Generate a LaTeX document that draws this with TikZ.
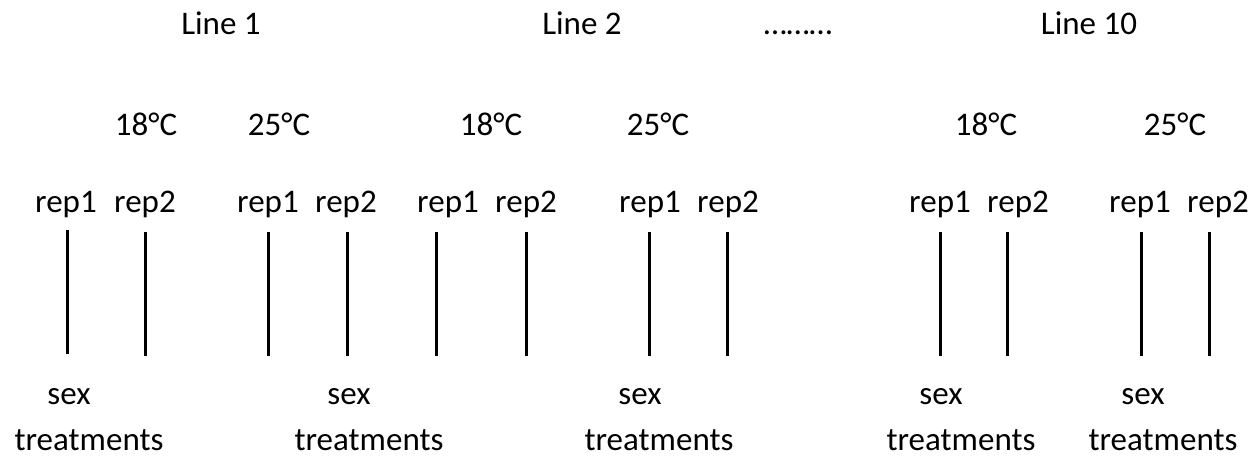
\documentclass[tikz,border=0pt]{standalone}
\usepackage{fontspec}
\setmainfont{Carlito}
\begin{document}
\begin{tikzpicture}[x=1pt,y=-1pt,
    lbl/.style={anchor=base,inner sep=0pt,font=\fontsize{33}{40}\selectfont},
    bar/.style={line width=3pt}]
  \useasboundingbox (0,0) rectangle (1258,457);
  \draw
    (221,35) node[lbl] (line1){Line 1}
    (582,35) node[lbl] (line2){Line 2}
    (798,35) node[lbl] (dots){………}
    (1089,35) node[lbl] (line10){Line 10};
  \draw
    (146,136) node[lbl] (t1a){18°C}
    (279,136) node[lbl] (t1b){25°C}
    (491,136) node[lbl] (t2a){18°C}
    (658,136) node[lbl] (t2b){25°C}
    (986,136) node[lbl] (t10a){18°C}
    (1175,136) node[lbl] (t10b){25°C};
  \draw
    (66,212) node[lbl] (r1){rep1}
    (145,212) node[lbl] (r2){rep2}
    (268,212) node[lbl] (r3){rep1}
    (346,212) node[lbl] (r4){rep2}
    (448,212) node[lbl] (r5){rep1}
    (526,212) node[lbl] (r6){rep2}
    (650,212) node[lbl] (r7){rep1}
    (728,212) node[lbl] (r8){rep2}
    (940,212) node[lbl] (r9){rep1}
    (1018,212) node[lbl] (r10){rep2}
    (1140,212) node[lbl] (r11){rep1}
    (1218,212) node[lbl] (r12){rep2};
  \path
    (67,230) coordinate (a1)  (67,354) coordinate (b1)
    (145,232) coordinate (a2)  (145,356) coordinate (b2)
    (268,232) coordinate (a3)  (268,356) coordinate (b3)
    (347,232) coordinate (a4)  (347,356) coordinate (b4)
    (436,232) coordinate (a5)  (436,356) coordinate (b5)
    (526,232) coordinate (a6)  (526,356) coordinate (b6)
    (649,232) coordinate (a7)  (649,356) coordinate (b7)
    (727,232) coordinate (a8)  (727,356) coordinate (b8)
    (940,232) coordinate (a9)  (940,356) coordinate (b9)
    (1007,232) coordinate (a10)  (1007,356) coordinate (b10)
    (1141,232) coordinate (a11)  (1141,356) coordinate (b11)
    (1209,232) coordinate (a12)  (1209,356) coordinate (b12);
  \begin{scope}[bar]
    \draw (a1) to (b1);
    \draw (a2) to (b2);
    \draw (a3) to (b3);
    \draw (a4) to (b4);
    \draw (a5) to (b5);
    \draw (a6) to (b6);
    \draw (a7) to (b7);
    \draw (a8) to (b8);
    \draw (a9) to (b9);
    \draw (a10) to (b10);
    \draw (a11) to (b11);
    \draw (a12) to (b12);
  \end{scope}
  \draw
    (69,404) node[lbl] (s1){sex}
    (349,404) node[lbl] (s2){sex}
    (640,404) node[lbl] (s3){sex}
    (941,404) node[lbl] (s4){sex}
    (1143,404) node[lbl] (s5){sex};
  \draw
    (89,450) node[lbl] (tr1){treatments}
    (369,450) node[lbl] (tr2){treatments}
    (659,450) node[lbl] (tr3){treatments}
    (961,450) node[lbl] (tr4){treatments}
    (1163,450) node[lbl] (tr5){treatments};
\end{tikzpicture}
\end{document}
